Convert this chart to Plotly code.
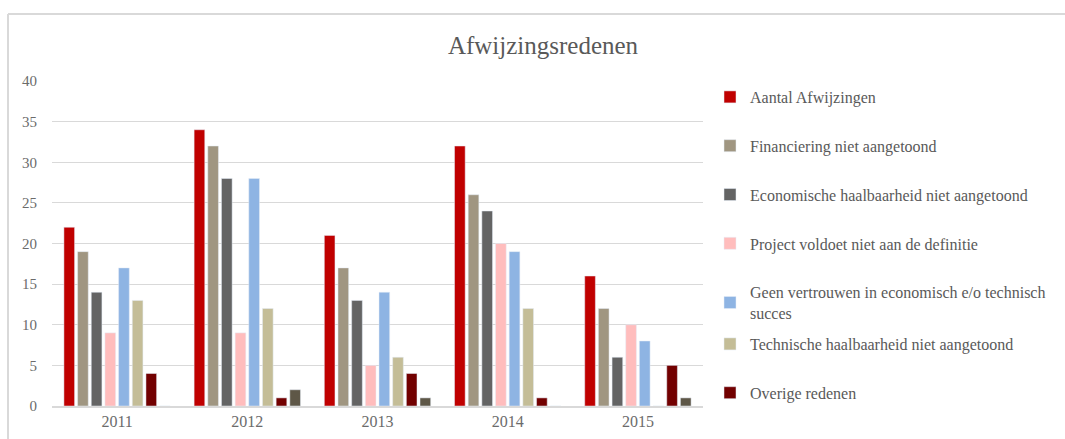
import plotly.graph_objects as go

years = ["2011", "2012", "2013", "2014", "2015"]

aantal_afwijzingen = [22, 34, 21, 32, 16]
financiering = [19, 32, 17, 26, 12]
economische = [14, 28, 13, 24, 6]
project_definitie = [9, 9, 5, 20, 10]
geen_vertrouwen = [17, 28, 14, 19, 8]
technische = [13, 12, 6, 12, 0]
overige = [4, 1, 4, 1, 5]
onbekend = [0, 2, 1, 0, 1]

# name, values, colour, legend to use (None = hidden)
series = [
    ("Aantal Afwijzingen", aantal_afwijzingen, "#C00000", "legend"),
    ("Financiering niet aangetoond", financiering, "#A09681", "legend"),
    ("Economische haalbaarheid niet aangetoond", economische, "#646464", "legend"),
    ("Project voldoet niet aan de definitie", project_definitie, "#FFBDBD", "legend"),
    ("Geen vertrouwen in economisch e/o technisch<br>succes", geen_vertrouwen, "#8EB4E3", "legend"),
    ("Technische haalbaarheid niet aangetoond", technische, "#C4BD97", "legend2"),
    ("Overige redenen", overige, "#720000", "legend2"),
    ("Overig", onbekend, "#5E5747", None),
]

fig = go.Figure()
for i, (name, vals, color, leg) in enumerate(series):
    fig.add_trace(go.Bar(
        x=years,
        y=vals,
        name=name,
        marker_color=color,
        showlegend=leg is not None,
        legend=leg or "legend",
        legendgroup="g%d" % i,
    ))

grey_text = "#595959"
tick_grey = "#6B6B6B"
legend_font = dict(family="Liberation Serif", size=16, color=grey_text)

fig.update_layout(
    width=1065,
    height=439,
    barmode="group",
    bargap=0.16,
    bargroupgap=0.22,
    paper_bgcolor="white",
    plot_bgcolor="white",
    margin=dict(l=52, r=362, t=81, b=33),
    title=dict(
        text="Afwijzingsredenen",
        x=543 / 1065,
        xanchor="center",
        y=1 - 45 / 439,
        yanchor="middle",
        font=dict(family="Liberation Serif", size=25, color=grey_text),
    ),
    font=dict(family="Liberation Serif", size=15, color=tick_grey),
    legend=dict(
        x=(710 - 52) / 651,
        xanchor="left",
        y=(406 - 80) / 325,
        yanchor="top",
        tracegroupgap=25,
        font=legend_font,
        itemwidth=30,
        maxheight=420,
    ),
    legend2=dict(
        x=(710 - 52) / 651,
        xanchor="left",
        y=(406 - 327) / 325,
        yanchor="top",
        tracegroupgap=25,
        font=legend_font,
        itemwidth=30,
        maxheight=420,
    ),
    xaxis=dict(
        showline=True,
        linecolor="#D9D9D9",
        linewidth=2,
        ticks="",
        automargin=False,
        tickfont=dict(size=16, color=tick_grey),
    ),
    yaxis=dict(
        range=[0, 40],
        dtick=5,
        showgrid=True,
        gridcolor="#D9D9D9",
        gridwidth=1,
        zeroline=False,
        ticks="",
        automargin=False,
        ticklabelstandoff=14,
        tickfont=dict(size=15, color=tick_grey),
    ),
    shapes=[
        dict(type="line", xref="paper", yref="paper",
             x0=(8 - 52) / 651, x1=(1070 - 52) / 651, y0=(406 - 14) / 325, y1=(406 - 14) / 325,
             line=dict(color="#D9D9D9", width=2)),
        dict(type="line", xref="paper", yref="paper",
             x0=(8 - 52) / 651, x1=(8 - 52) / 651, y0=(406 - 14) / 325, y1=-0.2,
             line=dict(color="#D9D9D9", width=2)),
    ],
)

fig.write_html(
    "out.html",
    config={"displayModeBar": False},
    post_script="document.body.style.margin='0';document.body.style.overflow='hidden';",
)
